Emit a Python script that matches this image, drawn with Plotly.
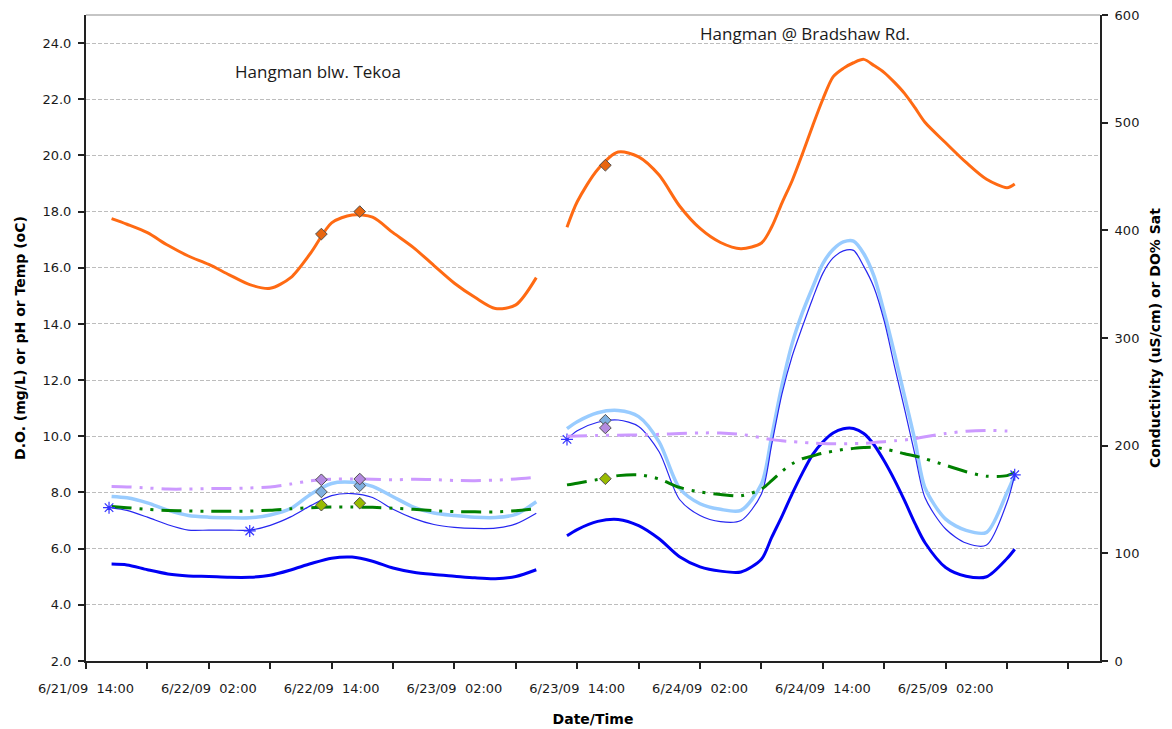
import plotly.graph_objects as go
from datetime import datetime, timedelta

# ---- Hangman blw. Tekoa (continuous sonde record) ----
tekoa_time = [
    "2009-06-21 16:30", "2009-06-21 18:00", "2009-06-21 20:00", "2009-06-21 22:00",
    "2009-06-22 00:00", "2009-06-22 02:00", "2009-06-22 04:00", "2009-06-22 06:00",
    "2009-06-22 08:00", "2009-06-22 10:00", "2009-06-22 12:00", "2009-06-22 14:00",
    "2009-06-22 16:00", "2009-06-22 18:00", "2009-06-22 20:00", "2009-06-22 22:00",
    "2009-06-23 00:00", "2009-06-23 02:00", "2009-06-23 04:00", "2009-06-23 06:00",
    "2009-06-23 08:00", "2009-06-23 10:00",
]
tekoa_temp = [17.75, 17.55, 17.25, 16.8, 16.42, 16.12, 15.75, 15.4, 15.27, 15.65, 16.55,
              17.6, 17.88, 17.8, 17.25, 16.72, 16.08, 15.45, 14.95, 14.55, 14.68, 15.65]
tekoa_do = [5.45, 5.42, 5.25, 5.1, 5.03, 5.01, 4.98, 4.98, 5.05, 5.24, 5.47,
            5.66, 5.70, 5.55, 5.31, 5.16, 5.08, 5.02, 4.96, 4.93, 5.01, 5.25]
tekoa_do_b = [7.86, 7.81, 7.63, 7.37, 7.18, 7.12, 7.10, 7.10, 7.2, 7.43, 7.95,
              8.32, 8.36, 8.22, 7.85, 7.48, 7.27, 7.18, 7.12, 7.11, 7.22, 7.67]
tekoa_do_c = [7.45, 7.36, 7.12, 6.85, 6.66, 6.66, 6.66, 6.66, 6.83, 7.13, 7.54,
              7.89, 7.96, 7.82, 7.40, 7.08, 6.86, 6.76, 6.72, 6.73, 6.88, 7.26]
tekoa_ph = [7.50, 7.46, 7.40, 7.36, 7.34, 7.33, 7.33, 7.34, 7.37, 7.42, 7.46,
            7.48, 7.48, 7.47, 7.44, 7.40, 7.35, 7.32, 7.31, 7.31, 7.35, 7.42]
tekoa_cond = [162.0, 161.7, 160.7, 159.7, 159.7, 160.2, 160.2, 160.7, 161.7, 164.3, 167.5,
              168.8, 169.0, 168.8, 168.3, 168.8, 168.5, 167.7, 167.5, 168.0, 169.0, 170.6]

# ---- Hangman @ Bradshaw Rd. (continuous sonde record) ----
bradshaw_time = [
    "2009-06-23 13:00", "2009-06-23 14:00", "2009-06-23 16:00", "2009-06-23 18:00",
    "2009-06-23 20:00", "2009-06-23 22:00", "2009-06-24 00:00", "2009-06-24 02:00",
    "2009-06-24 04:00", "2009-06-24 06:00", "2009-06-24 08:00", "2009-06-24 09:00",
    "2009-06-24 10:00", "2009-06-24 11:00", "2009-06-24 12:00", "2009-06-24 13:00",
    "2009-06-24 14:00", "2009-06-24 15:00", "2009-06-24 16:00", "2009-06-24 17:00",
    "2009-06-24 18:00", "2009-06-24 19:00", "2009-06-24 20:00", "2009-06-24 21:00",
    "2009-06-24 22:00", "2009-06-24 23:00", "2009-06-25 00:00", "2009-06-25 02:00",
    "2009-06-25 04:00", "2009-06-25 06:00", "2009-06-25 08:00", "2009-06-25 08:45",
]
bradshaw_temp = [17.44, 18.35, 19.5, 20.12, 19.95, 19.3, 18.2, 17.4, 16.9, 16.68, 16.88,
                 17.45, 18.3, 19.1, 20.05, 21.05, 22.0, 22.8, 23.1, 23.3, 23.42, 23.2,
                 22.95, 22.6, 22.2, 21.7, 21.17, 20.45, 19.75, 19.15, 18.85, 18.98]
bradshaw_do = [6.46, 6.68, 6.97, 7.04, 6.82, 6.35, 5.71, 5.35, 5.2, 5.17, 5.62,
               6.4, 7.15, 7.95, 8.69, 9.35, 9.8, 10.12, 10.27, 10.28, 10.1, 9.7,
               9.12, 8.45, 7.7, 6.9, 6.2, 5.33, 5.02, 5.0, 5.65, 5.98]
bradshaw_do_b = [10.27, 10.52, 10.84, 10.92, 10.7, 9.8, 8.15, 7.6, 7.4, 7.36, 8.3,
                 10.0, 11.8, 13.3, 14.4, 15.3, 16.15, 16.65, 16.92, 16.95, 16.5, 15.7,
                 14.4, 12.95, 11.4, 9.85, 8.15, 7.05, 6.65, 6.58, 8.0, 8.62]
bradshaw_do_c = [9.9, 10.2, 10.5, 10.58, 10.35, 9.45, 7.75, 7.18, 6.96, 7.0, 7.95,
                 9.7, 11.5, 12.85, 13.9, 14.9, 15.8, 16.35, 16.6, 16.62, 16.05, 15.3,
                 14.1, 12.5, 10.95, 9.35, 7.8, 6.7, 6.2, 6.13, 7.65, 8.63]
bradshaw_ph = [8.27, 8.33, 8.46, 8.6, 8.63, 8.48, 8.18, 8.02, 7.93, 7.88, 8.12,
               8.42, 8.75, 9.02, 9.2, 9.3, 9.4, 9.47, 9.53, 9.57, 9.6, 9.61,
               9.55, 9.47, 9.38, 9.3, 9.2, 8.97, 8.74, 8.58, 8.6, 8.72]
bradshaw_cond = [208.7, 209.0, 209.5, 209.7, 210.0, 210.5, 211.3, 211.8, 211.8, 210.5, 207.4,
                 205.6, 204.5, 203.7, 203.0, 202.4, 201.9, 201.7, 201.7, 201.9, 202.2, 203.0,
                 203.7, 204.5, 205.3, 206.6, 208.2, 211.3, 213.4, 214.2, 213.6, 213.4]

# ---- Field (spot) measurements ----
spot_time = ["2009-06-22 13:00", "2009-06-22 16:45", "2009-06-23 16:45"]
spot_temp = [17.2, 18.0, 19.65]
spot_cond = [168.3, 169.0, 216.5]
spot_do = [8.02, 8.24, 10.57]
spot_ph = [7.55, 7.62, 8.49]

# Sonde deployment / retrieval readings
check_time = ["2009-06-21 16:15", "2009-06-22 06:00", "2009-06-23 13:00", "2009-06-25 08:45"]
check_do = [7.46, 6.63, 9.89, 8.63]

# Axis settings
x_start = datetime(2009, 6, 21, 14, 0)
x_end = datetime(2009, 6, 25, 17, 5)
label_ticks = [x_start + timedelta(hours=12 * k) for k in range(8)]
label_text = [f"{d.month}/{d.day}/{d:%y}\u00a0 {d:%H:%M}" for d in label_ticks]
left_ticks = [2 + 2 * k for k in range(12)]

DASH = "20px,8px,3px,8px,3px,8px"

fig = go.Figure()

stations = [
    (tekoa_time, tekoa_temp, tekoa_do, tekoa_do_b, tekoa_do_c, tekoa_ph, tekoa_cond),
    (bradshaw_time, bradshaw_temp, bradshaw_do, bradshaw_do_b, bradshaw_do_c, bradshaw_ph, bradshaw_cond),
]

for t, temp, do, do_b, do_c, ph, cond in stations:
    fig.add_trace(go.Scatter(x=t, y=temp, mode="lines", name="Temperature",
                             line=dict(color="#FF6A13", width=3, shape="spline", smoothing=0.8)))
    fig.add_trace(go.Scatter(x=t, y=do_b, mode="lines", name="DO sensor B",
                             line=dict(color="#99CCFF", width=3.5, shape="spline", smoothing=0.8)))
    fig.add_trace(go.Scatter(x=t, y=do_c, mode="lines", name="DO sensor C",
                             line=dict(color="#2626F0", width=1.2, shape="spline", smoothing=0.8)))
    fig.add_trace(go.Scatter(x=t, y=do, mode="lines", name="D.O. (mg/L)",
                             line=dict(color="#0000F5", width=3, shape="spline", smoothing=0.8)))
    fig.add_trace(go.Scatter(x=t, y=ph, mode="lines", name="pH",
                             line=dict(color="#008000", width=3, dash=DASH, shape="spline", smoothing=0.8)))
    fig.add_trace(go.Scatter(x=t, y=cond, mode="lines", name="Conductivity", yaxis="y2",
                             line=dict(color="#CC99FF", width=3, dash=DASH, shape="spline", smoothing=0.8)))

diamond = dict(symbol="diamond", size=9, line=dict(color="#505050", width=1))
fig.add_trace(go.Scatter(x=spot_time, y=spot_temp, mode="markers", name="Temp (field)",
                         marker=dict(diamond, color="#E8650F")))
fig.add_trace(go.Scatter(x=spot_time, y=spot_do, mode="markers", name="DO (field)",
                         marker=dict(diamond, color="#7FB0E0")))
fig.add_trace(go.Scatter(x=spot_time, y=spot_ph, mode="markers", name="pH (field)",
                         marker=dict(diamond, color="#99BB00")))
fig.add_trace(go.Scatter(x=check_time, y=check_do, mode="markers", name="DO check",
                         marker=dict(symbol="asterisk-open", size=10, color="#3333FF",
                                     line=dict(color="#3333FF", width=1.2))))
fig.add_trace(go.Scatter(x=spot_time, y=spot_cond, mode="markers", name="Cond (field)", yaxis="y2",
                         marker=dict(diamond, color="#B48AE0")))

tick_font = dict(family="DejaVu Sans", size=13, color="#1a1a1a")
title_font = dict(family="DejaVu Sans", size=14, color="#000000")
label_font = dict(family="Open Sans", size=17, color="#1a1a1a")

fig.update_layout(
    width=1172, height=729,
    margin=dict(l=86, r=72, t=15, b=68),
    paper_bgcolor="white", plot_bgcolor="white",
    showlegend=False,
    xaxis=dict(
        type="date", range=[x_start, x_end], automargin=False,
        tickvals=label_ticks, ticktext=label_text, tickfont=tick_font,
        ticks="outside", ticklen=6, tickcolor="#222", tickwidth=1.5,
        ticklabelstandoff=8,
        minor=dict(dtick=6 * 3600 * 1000, tick0=x_start, ticks="outside",
                   ticklen=6, tickcolor="#222", tickwidth=1.5, showgrid=False),
        showline=True, linecolor="#222", linewidth=2,
        showgrid=False, zeroline=False,
        title=dict(text="<b>Date/Time</b>", font=title_font, standoff=20),
    ),
    yaxis=dict(
        range=[2, 25], tickvals=left_ticks, tickformat=".1f", tickfont=tick_font,
        automargin=False,
        ticks="outside", ticklen=6, tickcolor="#222", tickwidth=1.5,
        ticklabelstandoff=4,
        showline=True, linecolor="#222", linewidth=2,
        showgrid=True, gridcolor="#BDBDBD", gridwidth=1, griddash="4px,2px",
        zeroline=False,
        title=dict(text="<b>D.O. (mg/L) or pH or Temp (oC)</b>", font=title_font, standoff=14),
    ),
    yaxis2=dict(
        range=[0, 600], dtick=100, overlaying="y", side="right", automargin=False,
        tickfont=tick_font, ticks="outside", ticklen=6, tickcolor="#222", tickwidth=1.5,
        ticklabelstandoff=4,
        showline=True, linecolor="#222", linewidth=2,
        showgrid=False, zeroline=False,
        title=dict(text="<b>Conductivity (uS/cm) or DO% Sat</b>", font=title_font, standoff=12),
    ),
    shapes=[dict(type="line", xref="paper", yref="paper", x0=0, x1=1, y0=1, y1=1,
                 line=dict(color="#8C8C8C", width=1.2))],
    annotations=[
        dict(text="Hangman blw. Tekoa", xref="paper", yref="paper", x=0.229, y=0.912,
             xanchor="center", yanchor="middle", showarrow=False, font=label_font),
        dict(text="Hangman @ Bradshaw Rd.", xref="paper", yref="paper", x=0.709, y=0.972,
             xanchor="center", yanchor="middle", showarrow=False, font=label_font),
    ],
)

fig.write_html("out.html")
